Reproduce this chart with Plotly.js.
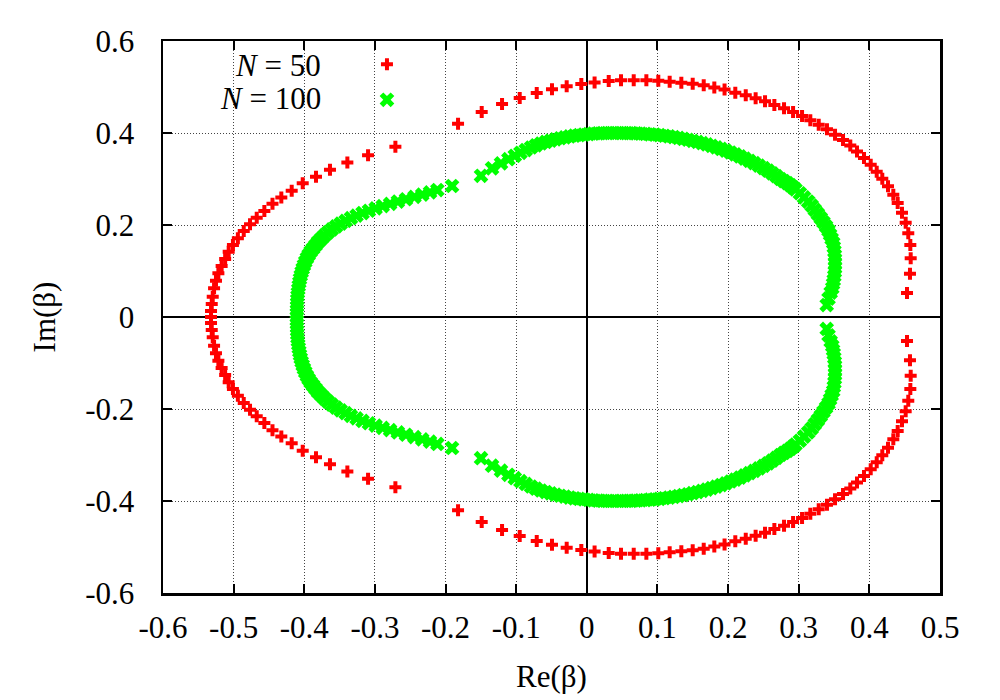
<!DOCTYPE html>
<html>
<head>
<meta charset="utf-8">
<script src="https://cdn.plot.ly/plotly-3.0.1.min.js"></script>
<style>html,body{margin:0;padding:0;background:#fff;}#chart{width:1000px;height:700px;}</style>
</head>
<body>
<div id="chart"></div>
<script>
// ---- data ----
const seriesNames = ["<i>N</i> = 50", "<i>N</i> = 100"];

const n50Re = [
 -0.2710,-0.3097,-0.3390,-0.3636,-0.3834,-0.4022,-0.4178,-0.4325,-0.4450,-0.4565,-0.4673,-0.4768,-0.4857,-0.4940,-0.5010,-0.5070,-0.5120,-0.5170,-0.5216,-0.5250,-0.5277,-0.5296,-0.5310,-0.5320,
 -0.5320,
 -0.5320,-0.5310,-0.5296,-0.5277,-0.5250,-0.5216,-0.5170,-0.5120,-0.5070,-0.5010,-0.4940,-0.4857,-0.4768,-0.4673,-0.4565,-0.4450,-0.4325,-0.4178,-0.4022,-0.3834,-0.3636,-0.3390,-0.3097,-0.2710,
 -0.1823,-0.1488,-0.1200,-0.0950,-0.0709,-0.0493,-0.0285,-0.0078,0.0110,0.0310,0.0484,0.0664,0.0843,0.1012,0.1173,0.1338,0.1499,0.1655,0.1805,0.1950,0.2102,0.2250,0.2390,0.2523,0.2655,0.2792,0.2920,0.3047,0.3164,0.3283,0.3400,0.3514,0.3627,0.3730,0.3825,0.3924,0.4019,0.4104,0.4183,0.4264,0.4339,0.4401,0.4462,0.4514,0.4551,0.4580,0.4585,0.4575,0.4533,
 -0.1823,-0.1488,-0.1200,-0.0950,-0.0709,-0.0493,-0.0285,-0.0078,0.0110,0.0310,0.0484,0.0664,0.0843,0.1012,0.1173,0.1338,0.1499,0.1655,0.1805,0.1950,0.2102,0.2250,0.2390,0.2523,0.2655,0.2792,0.2920,0.3047,0.3164,0.3283,0.3400,0.3514,0.3627,0.3730,0.3825,0.3924,0.4019,0.4104,0.4183,0.4264,0.4339,0.4401,0.4462,0.4514,0.4551,0.4580,0.4585,0.4575,0.4533
];
const n50Im = [
 0.3700,0.3515,0.3360,0.3200,0.3050,0.2906,0.2746,0.2600,0.2464,0.2304,0.2160,0.2015,0.1870,0.1710,0.1565,0.1420,0.1260,0.1110,0.0950,0.0790,0.0624,0.0440,0.0280,0.0130,
 0.0000,
 -0.0130,-0.0280,-0.0440,-0.0624,-0.0790,-0.0950,-0.1110,-0.1260,-0.1420,-0.1565,-0.1710,-0.1870,-0.2015,-0.2160,-0.2304,-0.2464,-0.2600,-0.2746,-0.2906,-0.3050,-0.3200,-0.3360,-0.3515,-0.3700,
 0.4200,0.4457,0.4630,0.4760,0.4870,0.4950,0.5015,0.5065,0.5100,0.5130,0.5145,0.5145,0.5145,0.5137,0.5116,0.5094,0.5070,0.5036,0.4990,0.4945,0.4876,0.4820,0.4754,0.4689,0.4610,0.4537,0.4457,0.4370,0.4276,0.4180,0.4080,0.3964,0.3848,0.3730,0.3600,0.3457,0.3310,0.3160,0.3007,0.2840,0.2660,0.2478,0.2267,0.2050,0.1820,0.1565,0.1276,0.0940,0.0520,
 -0.4200,-0.4457,-0.4630,-0.4760,-0.4870,-0.4950,-0.5015,-0.5065,-0.5100,-0.5130,-0.5145,-0.5145,-0.5145,-0.5137,-0.5116,-0.5094,-0.5070,-0.5036,-0.4990,-0.4945,-0.4876,-0.4820,-0.4754,-0.4689,-0.4610,-0.4537,-0.4457,-0.4370,-0.4276,-0.4180,-0.4080,-0.3964,-0.3848,-0.3730,-0.3600,-0.3457,-0.3310,-0.3160,-0.3007,-0.2840,-0.2660,-0.2478,-0.2267,-0.2050,-0.1820,-0.1565,-0.1276,-0.0940,-0.0520
];

const n100Re = [
 -0.4105,-0.4105,-0.4104,-0.4103,-0.4101,-0.4099,-0.4096,-0.4091,-0.4085,-0.4078,-0.4070,-0.4061,-0.4050,-0.4037,-0.4022,-0.4005,-0.3986,-0.3963,-0.3938,-0.3910,-0.3875,-0.3840,-0.3805,-0.3760,-0.3715,-0.3665,-0.3610,-0.3550,-0.3485,-0.3415,-0.3340,-0.3260,-0.3175,-0.3085,-0.2990,-0.2890,-0.2785,-0.2675,-0.2560,-0.2440,-0.2330,-0.2220,-0.2116,-0.1908,
 -0.4105,-0.4104,-0.4103,-0.4101,-0.4099,-0.4096,-0.4091,-0.4085,-0.4078,-0.4070,-0.4061,-0.4050,-0.4037,-0.4022,-0.4005,-0.3986,-0.3963,-0.3938,-0.3910,-0.3875,-0.3840,-0.3805,-0.3760,-0.3715,-0.3665,-0.3610,-0.3550,-0.3485,-0.3415,-0.3340,-0.3260,-0.3175,-0.3085,-0.2990,-0.2890,-0.2785,-0.2675,-0.2560,-0.2440,-0.2330,-0.2220,-0.2116,-0.1908,
 -0.1498,-0.1342,-0.1215,-0.1110,-0.1020,-0.0940,-0.0865,-0.0790,-0.0720,-0.0650,-0.0580,-0.0512,-0.0445,-0.0378,-0.0311,-0.0244,-0.0177,-0.0110,-0.0043,0.0024,0.0091,0.0158,0.0225,0.0292,0.0359,0.0426,0.0493,0.0560,0.0627,0.0694,0.0761,0.0828,0.0895,0.0962,0.1029,0.1096,0.1163,0.1230,0.1297,0.1364,0.1431,0.1498,0.1565,0.1632,0.1699,0.1766,0.1833,0.1900,0.1967,0.2034,0.2101,0.2168,0.2235,0.2302,0.2369,0.2436,0.2503,0.2565,0.2625,0.2683,0.2740,0.2790,0.2838,0.2881,0.2920,0.2954,0.3016,0.3075,0.3134,0.3184,0.3228,0.3271,0.3312,0.3350,0.3387,0.3422,0.3444,0.3466,0.3488,0.3497,0.3505,0.3512,0.3514,0.3514,0.3514,0.3511,0.3504,0.3496,0.3486,0.3475,0.3452,0.3422,0.3396,
 -0.1498,-0.1342,-0.1215,-0.1110,-0.1020,-0.0940,-0.0865,-0.0790,-0.0720,-0.0650,-0.0580,-0.0512,-0.0445,-0.0378,-0.0311,-0.0244,-0.0177,-0.0110,-0.0043,0.0024,0.0091,0.0158,0.0225,0.0292,0.0359,0.0426,0.0493,0.0560,0.0627,0.0694,0.0761,0.0828,0.0895,0.0962,0.1029,0.1096,0.1163,0.1230,0.1297,0.1364,0.1431,0.1498,0.1565,0.1632,0.1699,0.1766,0.1833,0.1900,0.1967,0.2034,0.2101,0.2168,0.2235,0.2302,0.2369,0.2436,0.2503,0.2565,0.2625,0.2683,0.2740,0.2790,0.2838,0.2881,0.2920,0.2954,0.3016,0.3075,0.3134,0.3184,0.3228,0.3271,0.3312,0.3350,0.3387,0.3422,0.3444,0.3466,0.3488,0.3497,0.3505,0.3512,0.3514,0.3514,0.3514,0.3511,0.3504,0.3496,0.3486,0.3475,0.3452,0.3422,0.3396
];
const n100Im = [
 0.0000,0.0075,0.0150,0.0225,0.0300,0.0375,0.0450,0.0525,0.0600,0.0675,0.0750,0.0825,0.0900,0.0975,0.1050,0.1125,0.1200,0.1280,0.1350,0.1420,0.1490,0.1560,0.1630,0.1700,0.1770,0.1840,0.1905,0.1970,0.2030,0.2090,0.2150,0.2205,0.2260,0.2310,0.2360,0.2410,0.2460,0.2510,0.2560,0.2610,0.2660,0.2710,0.2760,0.2848,
 -0.0075,-0.0150,-0.0225,-0.0300,-0.0375,-0.0450,-0.0525,-0.0600,-0.0675,-0.0750,-0.0825,-0.0900,-0.0975,-0.1050,-0.1125,-0.1200,-0.1280,-0.1350,-0.1420,-0.1490,-0.1560,-0.1630,-0.1700,-0.1770,-0.1840,-0.1905,-0.1970,-0.2030,-0.2090,-0.2150,-0.2205,-0.2260,-0.2310,-0.2360,-0.2410,-0.2460,-0.2510,-0.2560,-0.2610,-0.2660,-0.2710,-0.2760,-0.2848,
 0.3070,0.3233,0.3340,0.3430,0.3505,0.3570,0.3630,0.3685,0.3733,0.3772,0.3805,0.3835,0.3862,0.3886,0.3906,0.3925,0.3941,0.3955,0.3967,0.3977,0.3985,0.3991,0.3996,0.3999,0.4000,0.4000,0.3999,0.3998,0.3995,0.3991,0.3986,0.3980,0.3972,0.3963,0.3952,0.3940,0.3926,0.3910,0.3893,0.3874,0.3853,0.3830,0.3806,0.3780,0.3751,0.3720,0.3688,0.3653,0.3616,0.3576,0.3534,0.3490,0.3444,0.3395,0.3345,0.3292,0.3237,0.3180,0.3122,0.3062,0.3000,0.2955,0.2910,0.2865,0.2820,0.2775,0.2690,0.2600,0.2510,0.2420,0.2330,0.2240,0.2150,0.2060,0.1970,0.1880,0.1790,0.1700,0.1610,0.1520,0.1430,0.1340,0.1250,0.1160,0.1070,0.0980,0.0890,0.0800,0.0720,0.0630,0.0530,0.0400,0.0260,
 -0.3070,-0.3233,-0.3340,-0.3430,-0.3505,-0.3570,-0.3630,-0.3685,-0.3733,-0.3772,-0.3805,-0.3835,-0.3862,-0.3886,-0.3906,-0.3925,-0.3941,-0.3955,-0.3967,-0.3977,-0.3985,-0.3991,-0.3996,-0.3999,-0.4000,-0.4000,-0.3999,-0.3998,-0.3995,-0.3991,-0.3986,-0.3980,-0.3972,-0.3963,-0.3952,-0.3940,-0.3926,-0.3910,-0.3893,-0.3874,-0.3853,-0.3830,-0.3806,-0.3780,-0.3751,-0.3720,-0.3688,-0.3653,-0.3616,-0.3576,-0.3534,-0.3490,-0.3444,-0.3395,-0.3345,-0.3292,-0.3237,-0.3180,-0.3122,-0.3062,-0.3000,-0.2955,-0.2910,-0.2865,-0.2820,-0.2775,-0.2690,-0.2600,-0.2510,-0.2420,-0.2330,-0.2240,-0.2150,-0.2060,-0.1970,-0.1880,-0.1790,-0.1700,-0.1610,-0.1520,-0.1430,-0.1340,-0.1250,-0.1160,-0.1070,-0.0980,-0.0890,-0.0800,-0.0720,-0.0630,-0.0530,-0.0400,-0.0260
];

const xTickVals = [-0.6,-0.5,-0.4,-0.3,-0.2,-0.1,0,0.1,0.2,0.3,0.4,0.5];
const xTickText = ["-0.6","-0.5","-0.4","-0.3","-0.2","-0.1","0","0.1","0.2","0.3","0.4","0.5"];
const yTickVals = [-0.6,-0.4,-0.2,0,0.2,0.4,0.6];
const yTickText = ["-0.6","-0.4","-0.2","0","0.2","0.4","0.6"];

const FONT = "Liberation Serif, Times New Roman, serif";
const FS = 31;

const traces = [
  {x: n50Re, y: n50Im, type: 'scatter', mode: 'markers', name: '\u00a0',
   marker: {symbol: 'cross', size: 10, color: '#ff0000', line: {width: 0}}},
  {x: n100Re, y: n100Im, type: 'scatter', mode: 'markers', name: '\u00a0',
   marker: {symbol: 'x', size: 13, color: '#00ff00', line: {width: 0}}}
];

const axisCommon = {
  showline: true, mirror: 'ticks', linecolor: '#000', linewidth: 2.5,
  ticks: 'inside', ticklen: 9, tickwidth: 2, tickcolor: '#000',
  showgrid: true, gridcolor: '#444', gridwidth: 1, griddash: '1px,2px',
  zeroline: true, zerolinecolor: '#000', zerolinewidth: 2.5,
  tickmode: 'array', tickfont: {family: FONT, size: FS, color: '#000'},
  automargin: false
};

const layout = {
  width: 1000, height: 700,
  margin: {l: 163, r: 60, t: 41, b: 107},
  paper_bgcolor: '#fff', plot_bgcolor: '#fff',
  font: {family: FONT, color: '#000'},
  showlegend: true,
  legend: {x: 0.2625, xanchor: 'left', y: 0.999, yanchor: 'top',
           bgcolor: 'rgba(0,0,0,0)', borderwidth: 0,
           font: {family: FONT, size: 25, color: '#000'}},
  xaxis: Object.assign({}, axisCommon, {
    range: [-0.6, 0.5], tickvals: xTickVals, ticktext: xTickText,
    ticklabelstandoff: 5,
    title: {text: 'Re(β)', font: {family: FONT, size: FS, color: '#000'}, standoff: 22}
  }),
  yaxis: Object.assign({}, axisCommon, {
    range: [-0.6, 0.6], tickvals: yTickVals, ticktext: yTickText,
    ticklabelstandoff: 20,
    title: {text: 'Im(β)', font: {family: FONT, size: FS, color: '#000'}, standoff: 21}
  }),
  shapes: [
    {type: 'rect', xref: 'paper', yref: 'paper', x0: 0, x1: 0.33, y0: 0.864, y1: 1,
     fillcolor: '#fff', line: {width: 0}, layer: 'between'}
  ],
  annotations: [
    {xref: 'paper', yref: 'paper', x: 0.2059, y: 0.9565, xanchor: 'right', yanchor: 'middle',
     text: seriesNames[0], showarrow: false, font: {family: FONT, size: FS, color: '#000'}},
    {xref: 'paper', yref: 'paper', x: 0.2059, y: 0.8967, xanchor: 'right', yanchor: 'middle',
     text: seriesNames[1], showarrow: false, font: {family: FONT, size: FS, color: '#000'}}
  ]
};

Plotly.newPlot('chart', traces, layout, {displayModeBar: false, staticPlot: true});
</script>
</body>
</html>
